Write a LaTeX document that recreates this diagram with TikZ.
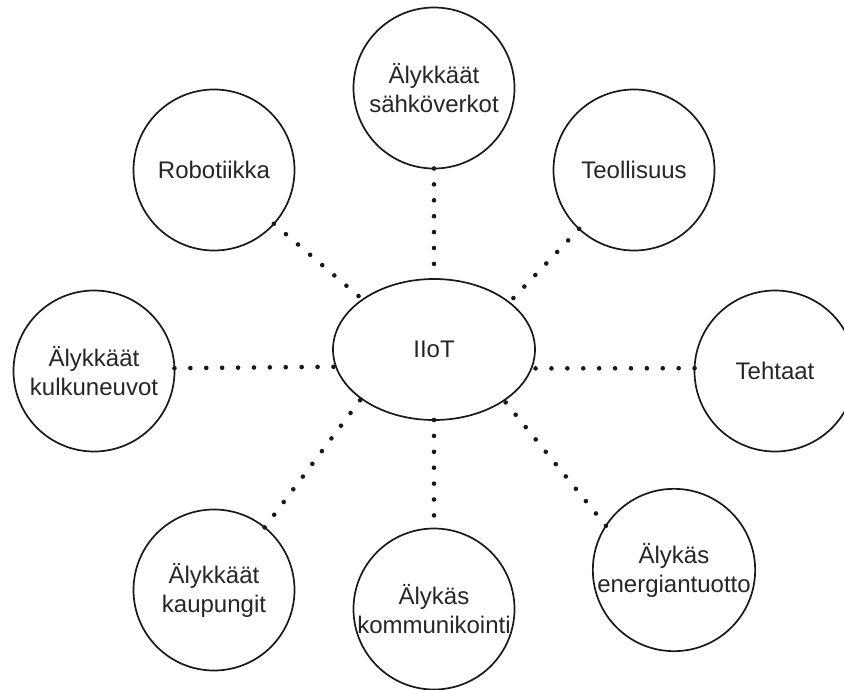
\documentclass[tikz,border=0pt]{standalone}
\usepackage{fontspec}
\setmainfont{Liberation Sans}
\usetikzlibrary{shapes.geometric}
\begin{document}
\begin{tikzpicture}[x=1pt,y=-1pt,
  txt/.style={font=\fontsize{24}{29}\selectfont, text=black!85, align=center},
  bub/.style={circle, draw=black!90, line width=1.7pt, minimum size=161pt, inner sep=0pt, outer sep=0pt, txt},
  hub/.style={ellipse, draw=black!90, line width=1.7pt, minimum width=202pt, minimum height=141pt, inner sep=0pt, outer sep=0pt, txt},
  conn/.style={line width=4.6pt, line cap=round, dash pattern=on 0pt off 15.9pt, black!90}]
\clip (0,0) rectangle (844,689);
\fill[white] (0,0) rectangle (844,689);

\node[hub] (iiot) at (434,349.5) {IIoT};

\node[bub] (top) at (434,88)  {Älykkäät\\sähköverkot};
\node[bub] (rob) at (214,170) {Robotiikka};
\node[bub] (teo) at (634,170) {Teollisuus};
\node[bub] (kul) at (94,371)  {Älykkäät\\kulkuneuvot};
\node[bub] (teh) at (775,371) {Tehtaat};
\node[bub] (kau) at (214,590) {Älykkäät\\kaupungit};
\node[bub] (kom) at (434,609) {Älykäs\\kommunikointi};
\node[bub] (ene) at (674,570) {Älykäs\\energiantuotto};

\draw[conn] (top.south) -- (iiot.north);
\draw[conn] (rob.318.7) -- (iiot.145.6);
\draw[conn] (teo.227.4) -- (iiot.32.3);
\draw[conn] (kul.2) -- (iiot.190.7);
\draw[conn] (teh.178.6) -- (iiot.349.4);
\draw[conn] (kau.51.5) -- (iiot.214.9);
\draw[conn] (iiot.south) -- (kom.north);
\draw[conn] (ene.147.5) -- (iiot.324.6);
\end{tikzpicture}
\end{document}
